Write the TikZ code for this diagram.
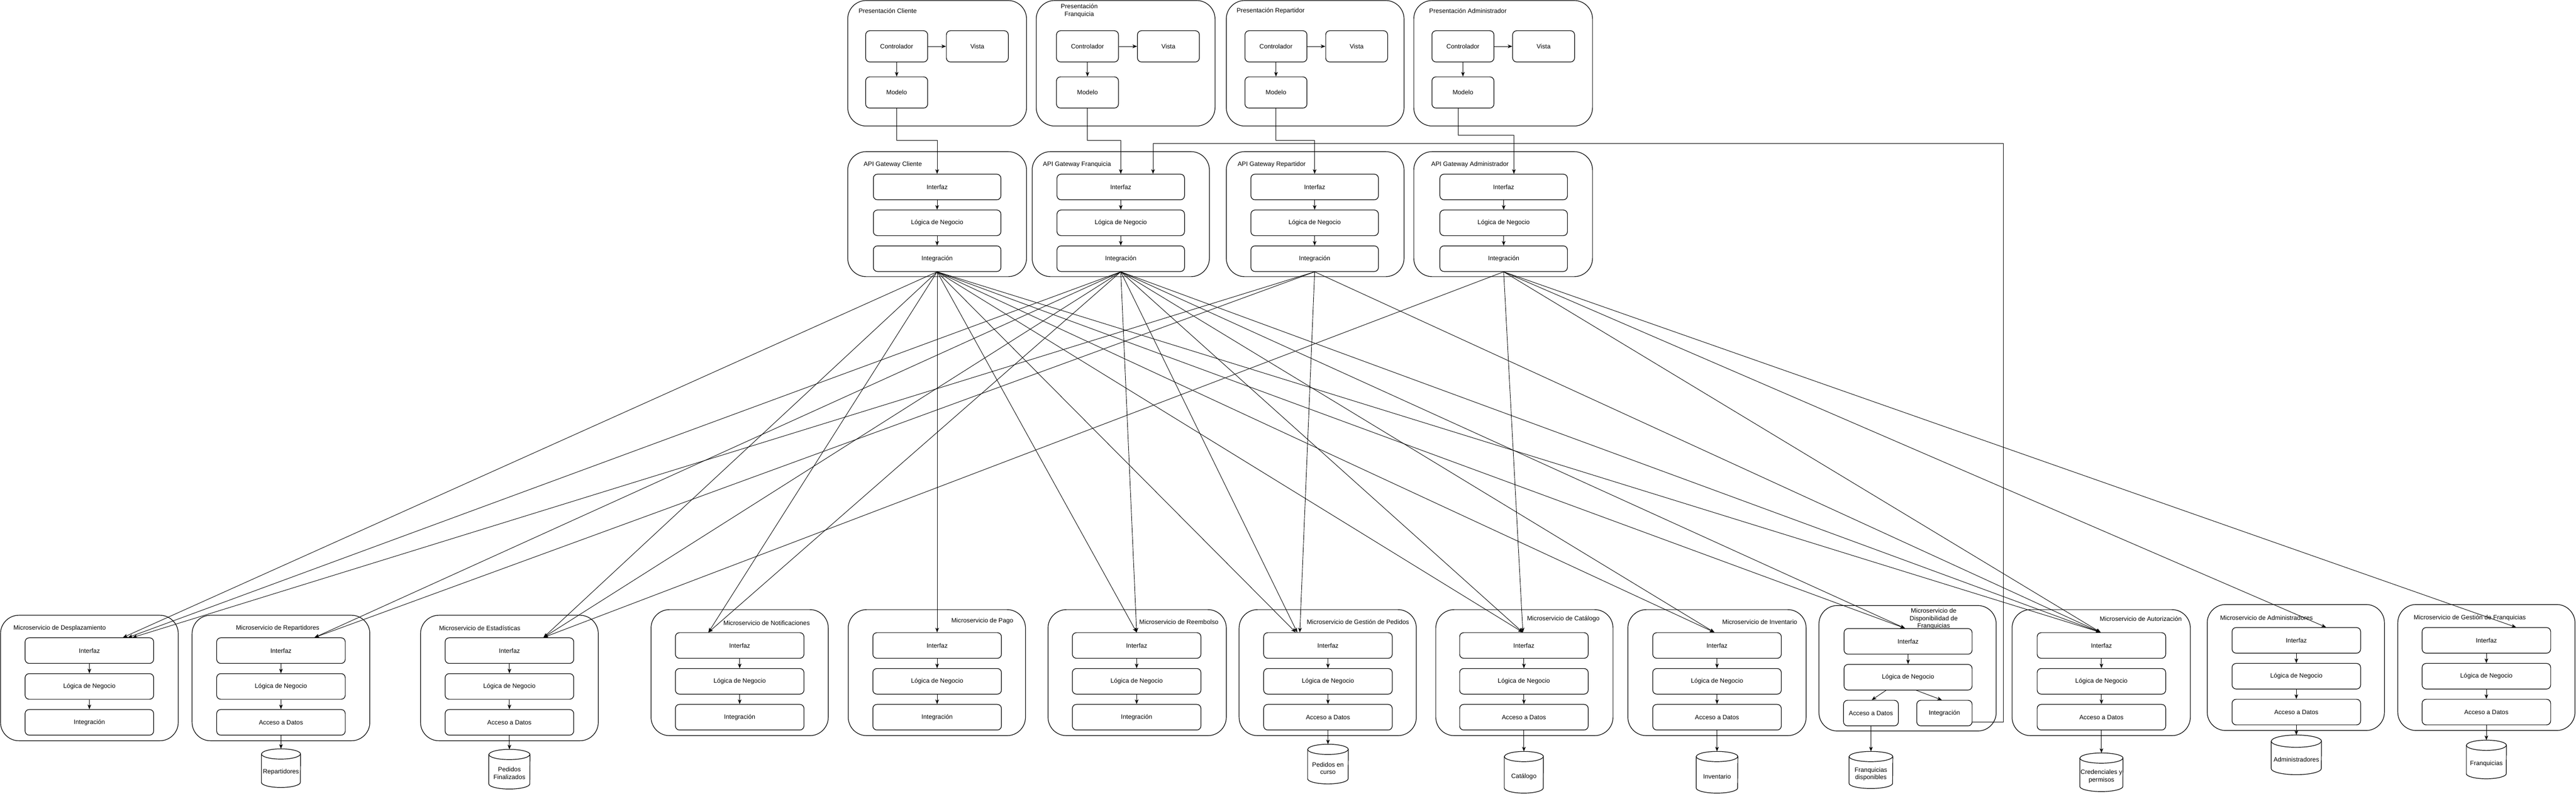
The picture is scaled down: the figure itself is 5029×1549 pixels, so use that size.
\documentclass[tikz,border=0pt]{standalone}
\usepackage{fontspec}
\setmainfont{Liberation Sans}
\usetikzlibrary{arrows.meta,calc}
\newcommand\fs{\fontsize{12.3}{14.5}\selectfont}
\newcommand\bx[6]{\node[bx, minimum width=#4pt, minimum height=#5pt] (#1) at (#2,#3) {#6};}
\newcommand\ctn[4]{\draw[ctn] (#1,#2) rectangle (#3,#4);}
\newcommand\dbcyl[7]{%
  \node[dbn, minimum width=#4pt, minimum height=#5pt] (#1) at (#2,#3+#5/2) {};
  \draw[dbs] ($(#1.north west)+(0,-#6pt)$) -- ($(#1.south west)+(0,#6pt)$)
     arc[start angle=180, end angle=360, x radius={0.5*#4pt}, y radius=#6pt]
     -- ($(#1.north east)+(0,-#6pt)$)
     arc[start angle=0, end angle=180, x radius={0.5*#4pt}, y radius=#6pt] -- cycle;
  \draw[dbs, fill=none] ($(#1.north west)+(0,-#6pt)$)
     arc[start angle=180, end angle=360, x radius={0.5*#4pt}, y radius=#6pt];
  \node[ttlc] (#1-t) at (#2,#3+#5/2+#6*0.8) {#7};
}
\tikzset{
  ctn/.style={draw, line width=1.2pt, rounded corners=36pt},
  bx/.style={draw, line width=1.2pt, rounded corners=8pt, fill=white, font=\fs, align=center, inner sep=2pt},
  arr/.style={draw, line width=0.9pt, -{Stealth[length=9pt, width=7pt, inset=2.5pt]}},
  ttl/.style={font=\fs, inner sep=0pt, anchor=west},
  ttlc/.style={font=\fs, inner sep=0pt, align=center},
  dbn/.style={inner sep=0pt},
  dbs/.style={draw, line width=1.2pt, fill=white},
}
\begin{document}
\begin{tikzpicture}[x=1pt,y=-1pt]
\fill[white] (0,0) rectangle (5029,1549);
\useasboundingbox (0,0) rectangle (5029,1549);

% ---------- Presentation containers ----------
\ctn{1655}{1}{2004}{246}
\ctn{2023}{1}{2372}{246}
\ctn{2394}{1}{2741}{246}
\ctn{2760}{1}{3109}{246}
\node[ttl] (pct) at (1676,21) {Presentación Cliente};
\node[ttlc] (pft) at (2107,21) {Presentación\\Franquicia};
\node[ttl] (prt) at (2414,21) {Presentación Repartidor};
\node[ttl] (pat) at (2790,21) {Presentación Administrador};

\bx{pcc}{1750.5}{90.5}{121}{61}{Controlador}
\bx{pcv}{1908}{90.5}{121}{61}{Vista}
\bx{pcm}{1750.5}{180.5}{121}{61}{Modelo}
\bx{pfc}{2123}{90.5}{121}{61}{Controlador}
\bx{pfv}{2281}{90.5}{121}{61}{Vista}
\bx{pfm}{2123}{180.5}{121}{61}{Modelo}
\bx{prc}{2491}{90.5}{121}{61}{Controlador}
\bx{prv}{2648.5}{90.5}{121}{61}{Vista}
\bx{prm}{2491}{180.5}{121}{61}{Modelo}
\bx{pac}{2856}{90.5}{121}{61}{Controlador}
\bx{pav}{3013.5}{90.5}{121}{61}{Vista}
\bx{pam}{2856}{180.5}{121}{61}{Modelo}

\foreach \p in {pc,pf,pr,pa}{
  \draw[arr] (\p c.east) -- (\p v.west);
  \draw[arr] (\p c.south) -- (\p m.north);
}

% ---------- Gateways ----------
\ctn{1655}{296}{2004}{540}
\ctn{2015}{296}{2361}{540}
\ctn{2394}{296}{2741}{540}
\ctn{2760}{296}{3109}{540}
\node[ttl] (gct) at (1686,321) {API Gateway Cliente};
\node[ttl] (gft) at (2036,321) {API Gateway Franquicia};
\node[ttl] (grt) at (2416,321) {API Gateway Repartidor};
\node[ttl] (gat) at (2794,321) {API Gateway Administrador};

\bx{gci}{1829.5}{365}{249}{50}{Interfaz}
\bx{gcl}{1829.5}{435}{249}{50}{Lógica de Negocio}
\bx{gcg}{1829.5}{505}{249}{50}{Integración}
\bx{gfi}{2188}{365}{249}{50}{Interfaz}
\bx{gfl}{2188}{435}{249}{50}{Lógica de Negocio}
\bx{gfg}{2188}{505}{249}{50}{Integración}
\bx{gri}{2566.5}{365}{249}{50}{Interfaz}
\bx{grl}{2566.5}{435}{249}{50}{Lógica de Negocio}
\bx{grg}{2566.5}{505}{249}{50}{Integración}
\bx{gai}{2935.5}{365}{249}{50}{Interfaz}
\bx{gal}{2935.5}{435}{249}{50}{Lógica de Negocio}
\bx{gag}{2935.5}{505}{249}{50}{Integración}

\foreach \g in {gc,gf,gr,ga}{
  \draw[arr] (\g i.south) -- (\g l.north);
  \draw[arr] (\g l.south) -- (\g g.north);
}

\draw[arr] (pcm.south) |- ($(gci.north)+(0,65pt)$) -- (gci.north);
\draw[arr] (pfm.south) |- ($(gfi.north)+(0,65pt)$) -- (gfi.north);
\draw[arr] (prm.south) |- ($(gri.north)+(0,65pt)$) -- (gri.north);
\draw[arr] ([xshift=-9pt]pam.south) |- ($(gai.north)+(20pt,75pt)$) -- ([xshift=20pt]gai.north);

% ---------- Microservices ----------
% 1 Desplazamiento
\ctn{1}{1201}{348}{1446}
\node[ttl] (m1t) at (26,1226) {Microservicio de Desplazamiento};
\bx{m1i}{174.5}{1270}{251}{50}{Interfaz}
\bx{m1l}{174.5}{1340}{251}{50}{Lógica de Negocio}
\bx{m1b}{174.5}{1410}{251}{50}{Integración}
% 2 Repartidores
\ctn{375}{1201}{722}{1446}
\node[ttlc] (m2t) at (542,1226) {Microservicio de Repartidores};
\bx{m2i}{548.5}{1270}{251}{50}{Interfaz}
\bx{m2l}{548.5}{1340}{251}{50}{Lógica de Negocio}
\bx{m2b}{548.5}{1410}{251}{50}{Acceso a Datos}
\dbcyl{db2}{548.5}{1462}{76}{75}{10}{Repartidores}
% 3 Estadisticas
\ctn{821}{1201}{1168}{1446}
\node[ttl] (m3t) at (857,1226) {Microservicio de Estadísticas};
\bx{m3i}{994.5}{1270}{251}{50}{Interfaz}
\bx{m3l}{994.5}{1340}{251}{50}{Lógica de Negocio}
\bx{m3b}{994.5}{1410}{251}{50}{Acceso a Datos}
\dbcyl{db3}{994.5}{1463}{80}{77}{10}{Pedidos\\Finalizados}
% 4 Notificaciones
\ctn{1271}{1190}{1617}{1436}
\node[ttl] (m4t) at (1412,1216) {Microservicio de Notificaciones};
\bx{m4i}{1444}{1260}{251}{50}{Interfaz}
\bx{m4l}{1444}{1330}{251}{50}{Lógica de Negocio}
\bx{m4b}{1444}{1400}{251}{50}{Integración}
% 5 Pago
\ctn{1656}{1190}{2002}{1436}
\node[ttl] (m5t) at (1857,1212) {Microservicio de Pago};
\bx{m5i}{1829.5}{1260}{251}{50}{Interfaz}
\bx{m5l}{1829.5}{1330}{251}{50}{Lógica de Negocio}
\bx{m5b}{1829.5}{1400}{251}{50}{Integración}
% 6 Reembolso
\ctn{2046}{1190}{2394}{1436}
\node[ttl] (m6t) at (2224,1214) {Microservicio de Reembolso};
\bx{m6i}{2219}{1260}{251}{50}{Interfaz}
\bx{m6l}{2219}{1330}{251}{50}{Lógica de Negocio}
\bx{m6b}{2219}{1400}{251}{50}{Integración}
% 7 Gestion de Pedidos
\ctn{2419}{1190}{2765}{1436}
\node[ttl] (m7t) at (2551,1214) {Microservicio de Gestión de Pedidos};
\bx{m7i}{2592.5}{1260}{251}{50}{Interfaz}
\bx{m7l}{2592.5}{1330}{251}{50}{Lógica de Negocio}
\bx{m7b}{2592.5}{1400}{251}{50}{Acceso a Datos}
\dbcyl{db7}{2592.5}{1453}{79}{77}{10}{Pedidos en\\curso}
% 8 Catalogo
\ctn{2803}{1190}{3149}{1436}
\node[ttl] (m8t) at (2981,1208) {Microservicio de Catálogo};
\bx{m8i}{2975}{1260}{251}{50}{Interfaz}
\bx{m8l}{2975}{1330}{251}{50}{Lógica de Negocio}
\bx{m8b}{2975}{1400}{251}{50}{Acceso a Datos}
\dbcyl{db8}{2975}{1467}{76}{81}{10}{Catálogo}
% 9 Inventario
\ctn{3178}{1190}{3526}{1436}
\node[ttl] (m9t) at (3362,1214) {Microservicio de Inventario};
\bx{m9i}{3352}{1260}{251}{50}{Interfaz}
\bx{m9l}{3352}{1330}{251}{50}{Lógica de Negocio}
\bx{m9b}{3352}{1400}{251}{50}{Acceso a Datos}
\dbcyl{db9}{3352}{1467}{81}{81}{10}{Inventario}
% 10 Disponibilidad de Franquicias
\ctn{3551}{1182}{3897}{1427}
\node[ttlc] (m10t) at (3775,1208) {Microservicio de\\Disponibilidad de\\Franquicias};
\bx{m10i}{3725}{1252}{250}{50}{Interfaz}
\bx{m10l}{3725}{1322}{250}{50}{Lógica de Negocio}
\bx{m10a}{3652.5}{1392}{107}{50}{Acceso a Datos}
\bx{m10g}{3796}{1392}{108}{50}{Integración}
\dbcyl{db10}{3652.5}{1467}{85}{72}{10}{Franquicias\\disponibles}
% 11 Autorizacion
\ctn{3928}{1190}{4276}{1436}
\node[ttl] (m11t) at (4099,1208) {Microservicio de Autorización};
\bx{m11i}{4102.5}{1260}{251}{50}{Interfaz}
\bx{m11l}{4102.5}{1330}{251}{50}{Lógica de Negocio}
\bx{m11b}{4102.5}{1400}{251}{50}{Acceso a Datos}
\dbcyl{db11}{4102.5}{1470}{84}{75}{10}{Credenciales y\\permisos}
% 12 Administradores
\ctn{4309}{1180}{4655}{1426}
\node[ttl] (m12t) at (4334,1206) {Microservicio de Administradores};
\bx{m12i}{4483}{1250}{251}{50}{Interfaz}
\bx{m12l}{4483}{1320}{251}{50}{Lógica de Negocio}
\bx{m12b}{4483}{1390}{251}{50}{Acceso a Datos}
\dbcyl{db12}{4483}{1435}{98}{77}{12}{Administradores}
% 13 Gestion de Franquicias
\ctn{4681}{1180}{5027}{1426}
\node[ttl] (m13t) at (4712,1206) {Microservicio de Gestión de Franquicias};
\bx{m13i}{4854}{1250}{251}{50}{Interfaz}
\bx{m13l}{4854}{1320}{251}{50}{Lógica de Negocio}
\bx{m13b}{4854}{1390}{251}{50}{Acceso a Datos}
\dbcyl{db13}{4854}{1445}{78}{75}{10}{Franquicias}

% internal arrows
\foreach \m in {m1,m2,m3,m4,m5,m6,m7,m8,m9,m11,m12,m13}{
  \draw[arr] (\m i.south) -- (\m l.north);
  \draw[arr] (\m l.south) -- (\m b.north);
}
\foreach \m/\d in {m2/db2,m3/db3,m7/db7,m8/db8,m9/db9,m11/db11,m12/db12,m13/db13}{
  \draw[arr] (\m b.south) -- (\d.north);
}
\draw[arr] (m10i.south) -- (m10l.north);
\draw[arr] ([xshift=-43pt]m10l.south) -- ([xshift=1.5pt]m10a.north);
\draw[arr] ([xshift=16pt]m10l.south) -- ([xshift=-5pt]m10g.north);
\draw[arr] (m10a.south) -- (db10.north);

% Disponibilidad -> API Gateway Franquicia
\coordinate (wp) at (3911,280);
\draw[arr] ([yshift=-18pt]m10g.east) -| (wp) -| ([xshift=63pt]gfi.north);

% gateway fan-out
\foreach \s/\t/\d in {gcg/m1i/65.5, gfg/m1i/75.5, grg/m1i/84.5,
  gfg/m2i/65.5, grg/m2i/65.5,
  gcg/m3i/66.5, gfg/m3i/66.5, gag/m3i/66.5,
  gcg/m4i/-61, gfg/m4i/-61,
  gcg/m5i/0,
  gcg/m6i/0, gfg/m6i/0,
  gcg/m7i/-63, gfg/m7i/-60, grg/m7i/-55,
  gcg/m8i/-2, gfg/m8i/-2, gag/m8i/-2,
  gcg/m9i/-5, gfg/m9i/-5,
  gcg/m10i/-6, gfg/m10i/-6,
  gcg/m11i/-1.5, gfg/m11i/-1.5, grg/m11i/-1.5, gag/m11i/-1.5,
  gag/m12i/58, gag/m13i/58}{
  \draw[arr] (\s.south) -- ([xshift=\d pt]\t.north);
}
\end{tikzpicture}
\end{document}
